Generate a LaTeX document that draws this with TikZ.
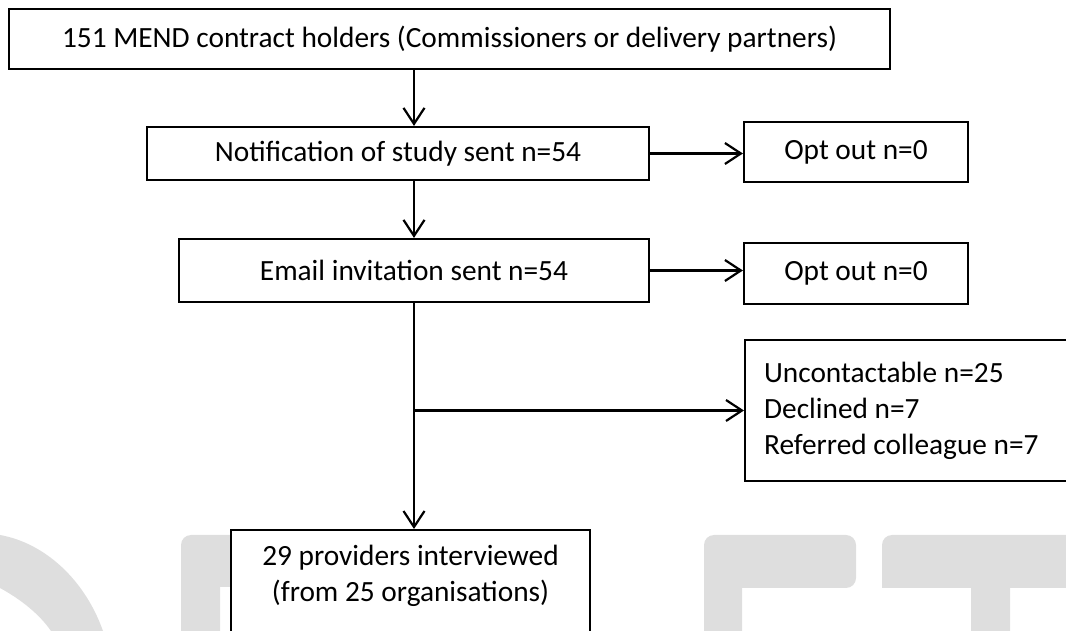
\documentclass[tikz,border=0pt]{standalone}
\usepackage{fontspec}
\setmainfont{Carlito}
\usetikzlibrary{arrows.meta}
\definecolor{wmark}{gray}{0.87}

\begin{document}
\begin{tikzpicture}[x=0.02cm,y=-0.02cm,
		font=\fontsize{16.7pt}{20.5pt}\selectfont,
		box/.style={draw,line width=1.25pt,fill=white,inner sep=0pt},
		arr/.style={line width=1.25pt,-{Straight Barb[length=0.32cm,width=0.42cm]}}]
		\useasboundingbox (0,0) rectangle (1066,631);
		%%%%%%%%%%%%%%%%%%%%%%%%%%%%%%%%% watermark
		\fill[wmark] (0,535) .. controls (45,543) and (85,580) .. (103,631) -- (51,631) .. controls (40,615) and (22,600) .. (0,588) -- cycle;
		\fill[wmark] (181,631) [rounded corners=0.2cm] -- (181,535) -- (240,535) [sharp corners] -- (240,587) -- (220,587) -- (220,631) -- cycle;
		\fill[wmark] (704,631) [rounded corners=0.2cm] -- (704,535) -- (856,535) -- (856,588) [sharp corners] -- (742,588) -- (742,631) -- cycle;
		\fill[wmark] (882,588) [rounded corners=0.2cm] -- (882,535) -- (1080,535) [sharp corners] -- (1080,588) -- (1010,588) -- (1010,631) -- (971,631) -- (971,588) -- cycle;
		%%%%%%%%%%%%%%%%%%%%%%%%%%%%%%%%% boxes
		\node[box,minimum width=17.62cm,minimum height=1.2cm] (holders) at (449.5,39) {151 MEND contract holders (Commissioners or delivery partners)};
		\node[box,minimum width=10.04cm,minimum height=1.06cm] (notify) at (398,153.5) {Notification of study sent n=54};
		\node[box,minimum width=4.48cm,minimum height=1.2cm] (optout1) at (856,152) {Opt out n=0};
		\node[box,minimum width=9.4cm,minimum height=1.26cm] (invite) at (414,270.5) {Email invitation sent n=54};
		\node[box,minimum width=4.48cm,minimum height=1.22cm] (optout2) at (856,273.5) {Opt out n=0};
		\node[box,anchor=west,minimum height=2.82cm,text width=6.36cm,inner xsep=0.38cm,align=flush left] (lost) at (744,410.5) {Uncontactable n=25\\Declined n=7\\Referred colleague n=7};
		\node[box,anchor=north,minimum width=7.18cm,inner ysep=0.3cm,text depth=3cm,align=center] (interviewed) at (410.5,529) {29 providers interviewed\\(from 25 organisations)};
		%%%%%%%%%%%%%%%%%%%%%%%%%%%%%%%%% arrows
		\draw[arr] (holders.south -| invite) -- (notify.north -| invite);
		\draw[arr] (notify.east) -- (notify.east -| optout1.west);
		\draw[arr] (notify.south -| invite) -- (invite.north);
		\draw[arr] (invite.east) -- (invite.east -| optout2.west);
		\draw[arr] (invite.south) -- (invite.south |- interviewed.north);
		\draw[arr] (invite.south |- lost.west) -- (lost.west);
\end{tikzpicture}
\end{document}
